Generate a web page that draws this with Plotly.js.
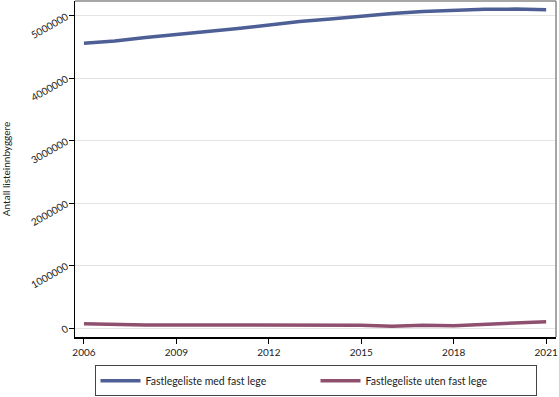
<!DOCTYPE html>
<html>
<head>
<meta charset="utf-8">
<script src="https://cdn.plot.ly/plotly-3.0.1.min.js"></script>
<style>html,body{margin:0;padding:0;background:#fff;}#chart{width:559px;height:397px;}</style>
</head>
<body>
<div id="chart"></div>
<script>
const years = [2006,2007,2008,2009,2010,2011,2012,2013,2014,2015,2016,2017,2018,2019,2020,2021];
const medFastLege = [4563000,4600000,4655000,4710000,4752000,4800000,4860000,4910000,4950000,4995000,5040000,5070000,5095000,5108000,5110000,5100000];
const utenFastLege = [69000,53000,50000,49000,48000,48000,47000,47000,47000,46000,30000,45000,38000,58000,76000,100000];
const seriesNames = ["Fastlegeliste med fast lege","Fastlegeliste uten fast lege"];
const xTicks = [2006,2009,2012,2015,2018,2021];
const yTicks = [0,1000000,2000000,3000000,4000000,5000000];
const yTickText = ["0","1000000","2000000","3000000","4000000","5000000"];

const traces = [
  {x: years, y: medFastLege, name: seriesNames[0], type: 'scatter', mode: 'lines',
   line: {color: '#4e5f96', width: 3.5}},
  {x: years, y: utenFastLege, name: seriesNames[1], type: 'scatter', mode: 'lines',
   line: {color: '#8f506f', width: 3.5}}
];

const layout = {
  width: 559, height: 397,
  margin: {l: 75, r: 3, t: 1, b: 60, autoexpand: false},
  paper_bgcolor: '#fff', plot_bgcolor: '#fff',
  font: {family: 'Lato, sans-serif', size: 10, color: '#222'},
  showlegend: true,
  xaxis: {
    range: [2005.71, 2021.32], automargin: false,
    tickvals: xTicks, ticktext: xTicks.map(String),
    ticks: 'outside', ticklen: 5, tickcolor: '#000', tickwidth: 1,
    showgrid: false, zeroline: false,
    showline: true, linecolor: '#000', linewidth: 1.5,
    tickfont: {family: 'Lato, sans-serif', size: 10, color: '#222'}
  },
  yaxis: {
    range: [-144000, 5240000], automargin: false,
    tickvals: yTicks, ticktext: yTickText, tickangle: -30,
    ticks: 'outside', ticklen: 5, tickcolor: '#000', tickwidth: 1,
    showgrid: true, gridcolor: '#e3e3e3', gridwidth: 1,
    zeroline: false,
    showline: true, linecolor: '#000', linewidth: 1.5,
    tickfont: {family: 'Lato, sans-serif', size: 10, color: '#222'},
    title: {text: 'Antall listeinnbyggere', font: {family: 'Lato, sans-serif', size: 10, color: '#222'}, standoff: 16}
  },
  shapes: [
    {type: 'line', xref: 'paper', yref: 'paper', x0: 0, x1: 1, y0: 1, y1: 1, line: {color: '#888', width: 1.5}},
    {type: 'line', xref: 'paper', yref: 'paper', x0: 1, x1: 1, y0: 0, y1: 1, line: {color: '#888', width: 1.5}}
  ],
  legend: {
    orientation: 'h', x: 0.5, xanchor: 'center', y: -0.084, yanchor: 'top',
    bordercolor: '#444', borderwidth: 1, bgcolor: '#fff',
    entrywidth: 165, entrywidthmode: 'pixels',
    font: {family: 'Lato, sans-serif', size: 10.5, color: '#222'},
    itemwidth: 40
  }
};

Plotly.newPlot('chart', traces, layout, {displayModeBar: false, staticPlot: true});
</script>
</body>
</html>
